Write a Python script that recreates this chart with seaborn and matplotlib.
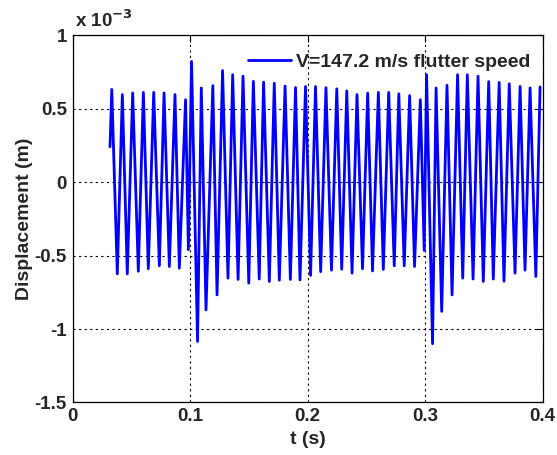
import numpy as np
import pandas as pd
import matplotlib
matplotlib.use("Agg")
import matplotlib.pyplot as plt
import seaborn as sns

# Extremes of the displacement signal (time in s, displacement in 1e-3 m)
t = [0.0319, 0.0334, 0.0381, 0.0424, 0.0466, 0.0512, 0.0560, 0.0603, 0.0645, 0.0691,
     0.0739, 0.0779, 0.0824, 0.0872, 0.0909, 0.0962, 0.0986, 0.1013, 0.1064, 0.1096,
     0.1136, 0.1194, 0.1230, 0.1277, 0.1323, 0.1363, 0.1409, 0.1451, 0.1500, 0.1539,
     0.1589, 0.1626, 0.1675, 0.1717, 0.1760, 0.1809, 0.1854, 0.1898, 0.1936, 0.1983,
     0.2026, 0.2068, 0.2112, 0.2157, 0.2204, 0.2249, 0.2291, 0.2334, 0.2379, 0.2421,
     0.2468, 0.2512, 0.2553, 0.2603, 0.2645, 0.2691, 0.2738, 0.2777, 0.2823, 0.2869,
     0.2911, 0.2960, 0.2993, 0.3013, 0.3064, 0.3094, 0.3142, 0.3187, 0.3230, 0.3277,
     0.3321, 0.3360, 0.3409, 0.3451, 0.3496, 0.3542, 0.3581, 0.3631, 0.3672, 0.3717,
     0.3766, 0.3809, 0.3851, 0.3894, 0.3943, 0.3979]
disp_e3 = [0.24, 0.63, -0.625, 0.595, -0.625, 0.606, -0.607, 0.61, -0.59, 0.61,
           -0.57, 0.606, -0.575, 0.595, -0.586, 0.56, -0.46, 0.82, -1.085, 0.64,
           -0.87, 0.656, -0.768, 0.758, -0.654, 0.73, -0.663, 0.72, -0.688, 0.685,
           -0.66, 0.68, -0.677, 0.672, -0.668, 0.653, -0.663, 0.643, -0.666, 0.65,
           -0.635, 0.65, -0.61, 0.642, -0.60, 0.634, -0.593, 0.62, -0.62, 0.595,
           -0.59, 0.605, -0.605, 0.61, -0.595, 0.61, -0.57, 0.60, -0.57, 0.588,
           -0.575, 0.56, -0.465, 0.73, -1.10, 0.64, -0.88, 0.658, -0.768, 0.73,
           -0.654, 0.73, -0.66, 0.72, -0.677, 0.683, -0.66, 0.678, -0.675, 0.668,
           -0.62, 0.65, -0.60, 0.64, -0.643, 0.647]

x_ticks = [0, 0.1, 0.2, 0.3, 0.4]
x_ticklabels = ["0", "0.1", "0.2", "0.3", "0.4"]
y_ticks = [-1.5, -1, -0.5, 0, 0.5, 1]
y_ticklabels = ["-1.5", "-1", "-0.5", "0", "0.5", "1"]
series_label = "V=147.2 m/s flutter speed"

sns.set_style("white")
plt.rcParams['font.family'] = ['Liberation Sans', 'DejaVu Sans']
plt.rcParams['font.weight'] = 'bold'

fig = plt.figure(figsize=(5.57, 4.55), dpi=100)
ax = fig.add_axes([0.1302, 0.1154, 0.974 - 0.1302, 0.923 - 0.1154])

df = pd.DataFrame({"t": t, "d": disp_e3})
sns.lineplot(data=df, x="t", y="d", sort=False, estimator=None, ax=ax,
             color="#0000ff", linewidth=2.0, label=series_label, zorder=3)

ax.set_xlim(0, 0.4)
ax.set_ylim(-1.5, 1)
ax.set_xticks(x_ticks)
ax.set_xticklabels(x_ticklabels, fontsize=13.5, fontweight='bold')
ax.set_yticks(y_ticks)
ax.set_yticklabels(y_ticklabels, fontsize=13.5, fontweight='bold')
ax.tick_params(direction='in', length=5, width=0.8, top=True, right=True,
               color='black', pad=4)
ax.grid(True, color='black', linestyle=(0, (2, 3)), linewidth=0.8, zorder=1)
for s in ax.spines.values():
    s.set_color('black')
    s.set_linewidth(0.9)

ax.set_xlabel("t (s)", fontsize=14, fontweight='bold', labelpad=4)
ax.set_ylabel("Displacement (m)", fontsize=14, fontweight='bold', labelpad=1)

ax.text(0.005, 1.01, r"x 10$^{\mathbf{-3}}$", transform=ax.transAxes,
        fontsize=13.5, fontweight='bold', ha='left', va='bottom')

leg = ax.legend(loc='upper right', bbox_to_anchor=(1.0, 0.981), frameon=False,
                handlelength=2.2, handletextpad=0.3, borderaxespad=0.2,
                prop={'weight': 'bold', 'size': 14})

fig.savefig("out.png", dpi=100)
